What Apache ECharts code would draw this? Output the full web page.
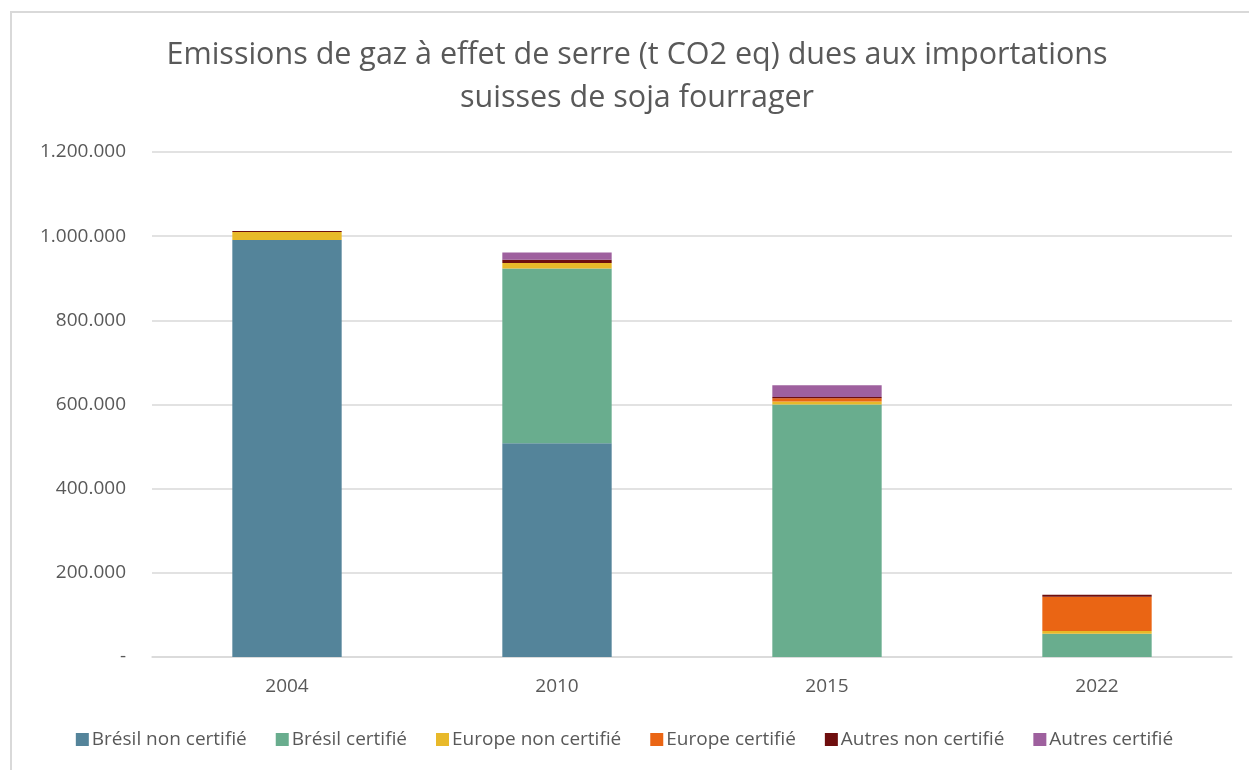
<!DOCTYPE html>
<html>
<head>
<meta charset="utf-8">
<script src="https://cdn.jsdelivr.net/npm/echarts@6/dist/echarts.min.js"></script>
<style>html,body{margin:0;padding:0;background:#fff}#c{width:1249px;height:770px}</style>
</head>
<body>
<div id="c"></div>
<script>
const categories = ['2004', '2010', '2015', '2022'];
const seriesNames = ['Brésil non certifié', 'Brésil certifié', 'Europe non certifié', 'Europe certifié', 'Autres non certifié', 'Autres certifié'];
const bresilNonCertifie = [991000, 508000, 0, 0];
const bresilCertifie = [0, 415000, 600000, 55000];
const europeNonCertifie = [19000, 13000, 7000, 7000];
const europeCertifie = [0, 0, 8000, 81000];
const autresNonCertifie = [2000, 8000, 3000, 5000];
const autresCertifie = [0, 17000, 28000, 0];
const colors = ['#54849A', '#69AD8E', '#E8B92A', '#EA6514', '#6E0E0E', '#9E609E'];
const values = [bresilNonCertifie, bresilCertifie, europeNonCertifie, europeCertifie, autresNonCertifie, autresCertifie];

const chart = echarts.init(document.getElementById('c'));
const font = '"Open Sans", "Noto Sans", sans-serif';
chart.setOption({
  animation: false,
  textStyle: { fontFamily: font },
  graphic: [{
    type: 'rect', shape: { x: 11, y: 12, width: 1260, height: 780 },
    style: { fill: 'none', stroke: '#D9D9D9', lineWidth: 2 }, silent: true, z: -1
  }, {
    type: 'text', x: 637, y: 77, silent: true,
    style: {
      text: 'Emissions de gaz à effet de serre (t CO2 eq) dues aux importations\nsuisses de soja fourrager',
      align: 'center', verticalAlign: 'middle',
      font: '30.5px ' + font, fill: '#595959', lineHeight: 43
    }
  }],
  legend: {
    bottom: 16, left: 'center',
    itemWidth: 13, itemHeight: 13, itemGap: 29,
    icon: 'rect',
    textStyle: { fontSize: 19, color: '#595959', fontFamily: font, padding: [0, 0, 0, -2] },
    data: seriesNames
  },
  grid: { left: 152, right: 17, top: 152, bottom: 113, containLabel: false },
  xAxis: {
    type: 'category', data: categories,
    axisLine: { lineStyle: { color: '#D9D9D9', width: 1.5 } },
    axisTick: { show: false },
    axisLabel: { fontSize: 19, color: '#595959', margin: 20 }
  },
  yAxis: {
    type: 'value', min: 0, max: 1200000, interval: 200000,
    axisLine: { show: false }, axisTick: { show: false },
    splitLine: { lineStyle: { color: '#D9D9D9', width: 1.5 } },
    axisLabel: {
      fontSize: 19, color: '#595959', margin: 26,
      formatter: v => v === 0 ? '-' : String(v).replace(/\B(?=(\d{3})+(?!\d))/g, '.')
    }
  },
  series: seriesNames.map((n, i) => ({
    name: n, type: 'bar', stack: 'total', data: values[i],
    barWidth: '40.5%', itemStyle: { color: colors[i] }
  }))
});
</script>
</body>
</html>
